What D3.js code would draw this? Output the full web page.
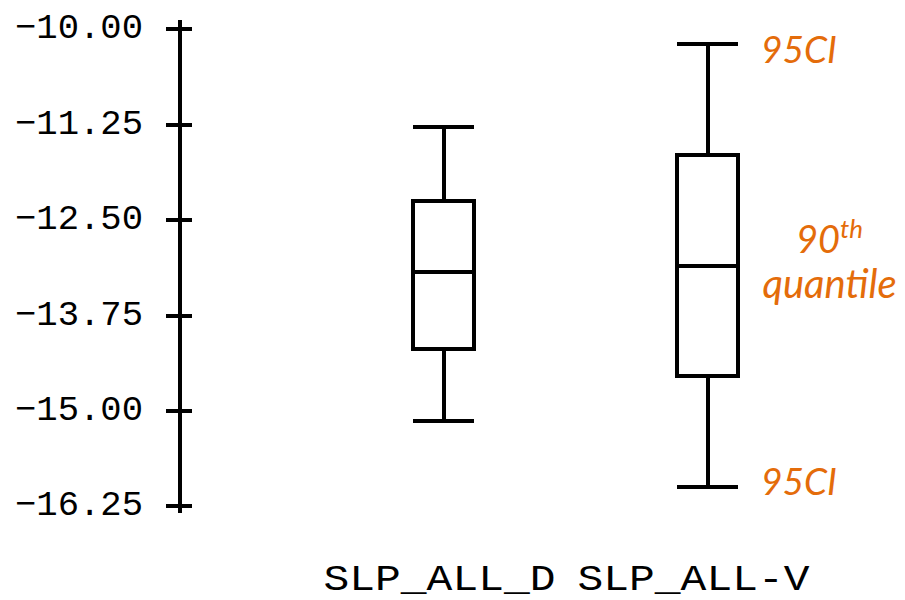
<!DOCTYPE html>
<html>
<head>
<meta charset="utf-8">
<script src="https://cdn.jsdelivr.net/npm/d3@7"></script>
<style>
  html, body { margin: 0; padding: 0; background: #fff; }
  svg { display: block; }
</style>
</head>
<body>
<svg id="chart" width="905" height="600"></svg>
<script>
// Box-plot summaries per series
const categories = ["SLP_ALL_D", "SLP_ALL-V"];
const whiskerHigh = [-11.29, -10.20];
const quartileHigh = [-12.25, -11.65];
const medians = [-13.19, -13.10];
const quartileLow = [-14.20, -14.55];
const whiskerLow = [-15.14, -16.00];
const tickValues = [-10.00, -11.25, -12.50, -13.75, -15.00, -16.25];
const annotationCI = "95CI";

// layout
const axisX = 179;
const boxWidth = 61;
const labelShift = [-4, -14];
const ink = "#000";
const accent = "#E46C0A";

const svg = d3.select("#chart");

const y = d3.scaleLinear().domain([-9.87, -16.33]).range([19, 512]);
const x = d3.scalePoint().domain(categories).range([443.5, 707.5]);

// y axis with ticks crossing the line
const yAxis = d3.axisLeft(y)
  .tickValues(tickValues)
  .tickSizeInner(13)
  .tickSizeOuter(0)
  .tickPadding(23)
  .tickFormat(d => d3.format(".2f")(d).replace("-", "\u2212"));

const ag = svg.append("g")
  .attr("transform", `translate(${axisX},0)`)
  .call(yAxis);
ag.select(".domain")
  .attr("stroke", ink).attr("stroke-width", 4)
  .attr("shape-rendering", "crispEdges");
ag.selectAll(".tick line")
  .attr("x1", -13).attr("x2", 13)
  .attr("stroke", ink).attr("stroke-width", 4)
  .attr("shape-rendering", "crispEdges");
ag.selectAll(".tick text")
  .attr("fill", ink)
  .attr("font-family", "'Liberation Mono', 'DejaVu Sans Mono', monospace")
  .attr("font-size", 35)
  .attr("dy", "9px")
  .attr("textLength", 128)
  .attr("lengthAdjust", "spacingAndGlyphs");

const boxes = categories.map((c, i) => ({
  c, i,
  hi: whiskerHigh[i], q3: quartileHigh[i], med: medians[i],
  q1: quartileLow[i], lo: whiskerLow[i]
}));

const bg = svg.append("g")
  .attr("stroke", ink).attr("stroke-width", 4)
  .attr("fill", "none").attr("shape-rendering", "crispEdges");

const b = bg.selectAll("g.box").data(boxes).join("g").attr("class", "box");

// whiskers
b.append("line")
  .attr("x1", d => x(d.c)).attr("x2", d => x(d.c))
  .attr("y1", d => y(d.hi)).attr("y2", d => y(d.q3));
b.append("line")
  .attr("x1", d => x(d.c)).attr("x2", d => x(d.c))
  .attr("y1", d => y(d.q1)).attr("y2", d => y(d.lo));
// caps
b.append("line")
  .attr("x1", d => x(d.c) - boxWidth / 2).attr("x2", d => x(d.c) + boxWidth / 2)
  .attr("y1", d => y(d.hi)).attr("y2", d => y(d.hi));
b.append("line")
  .attr("x1", d => x(d.c) - boxWidth / 2).attr("x2", d => x(d.c) + boxWidth / 2)
  .attr("y1", d => y(d.lo)).attr("y2", d => y(d.lo));
// box
b.append("rect")
  .attr("x", d => x(d.c) - boxWidth / 2)
  .attr("width", boxWidth)
  .attr("y", d => y(d.q3))
  .attr("height", d => y(d.q1) - y(d.q3))
  .attr("fill", "#fff");
// median
b.append("line")
  .attr("x1", d => x(d.c) - boxWidth / 2).attr("x2", d => x(d.c) + boxWidth / 2)
  .attr("y1", d => y(d.med)).attr("y2", d => y(d.med));

// category labels
svg.append("g").selectAll("text").data(categories).join("text")
  .attr("x", (d, i) => x(d) + labelShift[i])
  .attr("y", 590)
  .attr("text-anchor", "middle")
  .attr("font-family", "'Liberation Mono', 'DejaVu Sans Mono', monospace")
  .attr("font-size", 36)
  .attr("fill", ink)
  .attr("textLength", 232)
  .attr("lengthAdjust", "spacingAndGlyphs")
  .text(d => d);

// annotations on the second series
const last = boxes[boxes.length - 1];
const ann = svg.append("g")
  .attr("fill", accent)
  .attr("font-family", "Lato, 'Open Sans', sans-serif")
  .attr("font-style", "italic")
  .attr("font-size", 37);

const annX = x(last.c) + boxWidth / 2 + 23;
ann.append("text").attr("x", annX).attr("y", y(last.hi) + 19).text(annotationCI);
ann.append("text").attr("x", annX).attr("y", y(last.lo) + 8).text(annotationCI);

const midY = (y(last.q3) + y(last.q1)) / 2;
const qX = x(last.c) + 122;
const t1 = ann.append("text").attr("x", qX).attr("y", midY - 13)
  .attr("text-anchor", "middle").attr("font-size", 38);
t1.append("tspan").text("90");
t1.append("tspan").attr("font-size", 26).attr("dy", -15).text("th");
ann.append("text").attr("x", qX).attr("y", midY + 32)
  .attr("text-anchor", "middle").attr("font-size", 40).text("quantile");
</script>
</body>
</html>
